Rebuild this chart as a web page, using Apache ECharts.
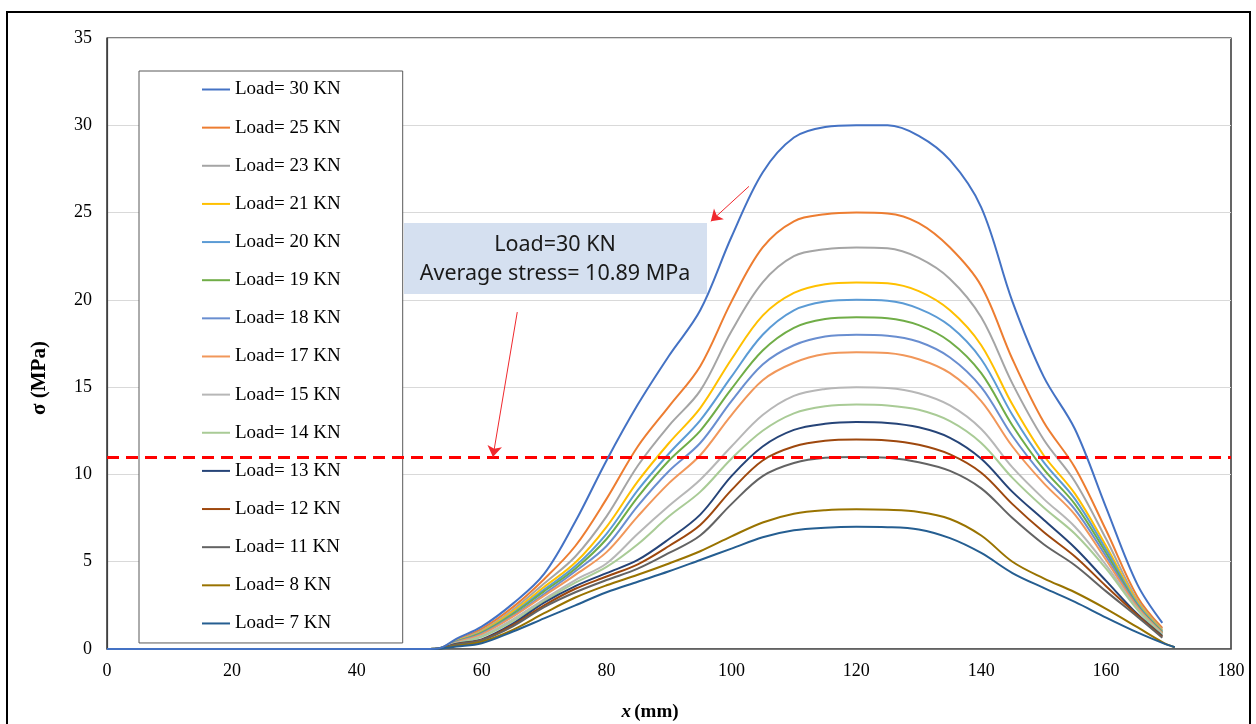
<!DOCTYPE html>
<html>
<head>
<meta charset="utf-8">
<script src="https://cdn.jsdelivr.net/npm/echarts@6/dist/echarts.min.js"></script>
<style>
  html, body { margin: 0; padding: 0; background: #fff; }
  #chart { width: 1256px; height: 724px; }
</style>
</head>
<body>
<div id="chart"></div>
<script>
// x positions (mm)
var xMain = [0, 10, 20, 30, 40, 50, 53, 56, 60, 65, 70, 75, 80, 85, 90, 95, 100, 105, 110, 115, 120, 125, 130, 135, 140, 145, 150, 155, 160, 165, 169];
var xLow = [0, 10, 20, 30, 40, 50, 53, 56, 60, 65, 70, 75, 80, 85, 90, 95, 100, 105, 110, 115, 120, 125, 130, 135, 140, 145, 150, 155, 160, 165, 169, 171];

var loads = [30, 25, 23, 21, 20, 19, 18, 17, 15, 14, 13, 12, 11, 8, 7];
var colors = ['#4472C4', '#ED7D31', '#A5A5A5', '#FFC000', '#5B9BD5', '#70AD47', '#698ED0', '#F1975A',
              '#B7B7B7', '#A9CB96', '#264478', '#9E480E', '#636363', '#997300', '#255E91'];

// stress (MPa)
var s30 = [0, 0, 0, 0, 0, 0, 0.03, 0.6, 1.28, 2.6, 4.3, 7.3, 10.8, 14.0, 16.8, 19.4, 23.6, 27.3, 29.3, 29.9, 30.0, 30.0, 29.4, 28.0, 25.3, 19.9, 15.6, 12.6, 8.1, 3.7, 1.5];
var s25 = [0, 0, 0, 0, 0, 0, 0.03, 0.52, 1.15, 2.4, 4.0, 5.9, 8.6, 11.6, 13.9, 16.2, 19.9, 23.0, 24.5, 24.9, 25.0, 24.95, 24.4, 23.0, 20.8, 16.6, 13.0, 10.4, 6.8, 3.0, 1.2];
var s23 = [0, 0, 0, 0, 0, 0, 0.03, 0.48, 1.05, 2.25, 3.75, 5.3, 7.6, 10.5, 12.8, 14.8, 18.2, 21.0, 22.5, 22.9, 23.0, 22.95, 22.4, 21.2, 19.0, 15.2, 12.0, 9.6, 6.3, 2.8, 1.1];
var s21 = [0, 0, 0, 0, 0, 0, 0.03, 0.45, 1.0, 2.15, 3.55, 4.95, 7.0, 9.6, 11.8, 13.8, 16.6, 19.1, 20.4, 20.9, 21.0, 20.95, 20.5, 19.4, 17.4, 14.0, 11.1, 8.9, 5.9, 2.7, 1.05];
var s20 = [0, 0, 0, 0, 0, 0, 0.03, 0.43, 0.95, 2.05, 3.4, 4.75, 6.6, 9.1, 11.2, 13.1, 15.6, 18.0, 19.4, 19.9, 20.0, 19.95, 19.5, 18.5, 16.6, 13.4, 10.7, 8.6, 5.7, 2.6, 1.0];
var s19 = [0, 0, 0, 0, 0, 0, 0.03, 0.42, 0.92, 2.0, 3.3, 4.6, 6.3, 8.7, 10.8, 12.5, 14.9, 17.1, 18.4, 18.9, 19.0, 18.95, 18.55, 17.6, 15.8, 12.8, 10.3, 8.3, 5.5, 2.5, 0.95];
var s18 = [0, 0, 0, 0, 0, 0, 0.03, 0.4, 0.88, 1.9, 3.15, 4.45, 5.9, 8.2, 10.2, 11.8, 14.2, 16.3, 17.4, 17.9, 18.0, 17.95, 17.6, 16.7, 15.0, 12.2, 9.9, 8.0, 5.3, 2.45, 0.9];
var s17 = [0, 0, 0, 0, 0, 0, 0.03, 0.38, 0.84, 1.85, 3.05, 4.25, 5.55, 7.6, 9.5, 11.1, 13.4, 15.4, 16.4, 16.9, 17.0, 16.95, 16.6, 15.8, 14.2, 11.6, 9.5, 7.7, 5.1, 2.4, 0.9];
var s15 = [0, 0, 0, 0, 0, 0, 0.03, 0.35, 0.75, 1.7, 2.85, 3.95, 4.9, 6.6, 8.2, 9.7, 11.6, 13.4, 14.5, 14.9, 15.0, 14.95, 14.65, 13.95, 12.6, 10.4, 8.6, 7.0, 4.8, 2.3, 0.85];
var s14 = [0, 0, 0, 0, 0, 0, 0.03, 0.33, 0.7, 1.6, 2.75, 3.8, 4.7, 6.0, 7.6, 9.0, 10.9, 12.5, 13.5, 13.9, 14.0, 13.95, 13.7, 13.05, 11.8, 9.8, 8.1, 6.6, 4.6, 2.25, 0.8];
var s13 = [0, 0, 0, 0, 0, 0, 0.02, 0.3, 0.55, 1.45, 2.65, 3.6, 4.35, 5.1, 6.3, 7.7, 9.9, 11.6, 12.55, 12.9, 13.0, 12.95, 12.7, 12.1, 10.9, 9.0, 7.4, 5.8, 3.9, 2.0, 0.75];
var s12 = [0, 0, 0, 0, 0, 0, 0.02, 0.28, 0.52, 1.38, 2.5, 3.45, 4.15, 4.85, 5.9, 7.1, 9.1, 10.8, 11.6, 11.93, 12.0, 11.95, 11.7, 11.15, 10.1, 8.3, 6.7, 5.3, 3.6, 1.95, 0.7];
var s11 = [0, 0, 0, 0, 0, 0, 0.02, 0.26, 0.5, 1.3, 2.4, 3.25, 3.95, 4.6, 5.5, 6.5, 8.3, 9.9, 10.65, 10.95, 11.0, 10.95, 10.7, 10.2, 9.2, 7.5, 6.0, 4.8, 3.3, 1.85, 0.65];
var s8 = [0, 0, 0, 0, 0, 0, 0.02, 0.18, 0.42, 1.1, 2.05, 2.95, 3.65, 4.25, 4.9, 5.6, 6.45, 7.25, 7.75, 7.95, 8.0, 7.97, 7.85, 7.45, 6.5, 5.0, 4.05, 3.25, 2.3, 1.25, 0.4, 0.1];
var s7 = [0, 0, 0, 0, 0, 0, 0.02, 0.14, 0.33, 1.0, 1.75, 2.5, 3.25, 3.85, 4.45, 5.1, 5.75, 6.4, 6.8, 6.95, 7.0, 6.98, 6.85, 6.35, 5.5, 4.35, 3.5, 2.7, 1.8, 0.95, 0.35, 0.1];

var stress = [s30, s25, s23, s21, s20, s19, s18, s17, s15, s14, s13, s12, s11, s8, s7];

var avgStress = 11;

var serif = 'Liberation Serif';
var chart = echarts.init(document.getElementById('chart'));

var names = loads.map(function (l) { return 'Load= ' + l + ' KN'; });

var series = loads.map(function (l, i) {
  var xs = stress[i].length === xLow.length ? xLow : xMain;
  var s = {
    name: names[i],
    type: 'line',
    smooth: 0.35,
    symbol: 'none',
    color: colors[i],
    lineStyle: { width: 2, color: colors[i] },
    data: xs.map(function (x, k) { return [x, stress[i][k]]; })
  };
  if (i === 0) {
    s.z = 5;
    s.markLine = {
      silent: true,
      symbol: ['none', 'none'],
      label: { show: false },
      data: [
        { yAxis: avgStress, lineStyle: { color: '#FF0000', width: 3, type: [12, 7] } },
        [
          { coord: [102.8, 26.5], symbol: 'none', lineStyle: { color: '#F0282D', width: 1, type: 'solid' } },
          { coord: [96.7, 24.5], symbol: 'arrow', symbolSize: 11 }
        ],
        [
          { coord: [65.7, 19.3], symbol: 'none', lineStyle: { color: '#F0282D', width: 1, type: 'solid' } },
          { coord: [61.8, avgStress], symbol: 'arrow', symbolSize: 11 }
        ]
      ]
    };
  }
  return s;
});

var option = {
  backgroundColor: '#fff',
  animation: false,
  grid: {
    left: 107, right: 25, top: 38, bottom: 75,
    show: true, borderColor: '#000', borderWidth: 1.2
  },
  xAxis: {
    type: 'value', min: 0, max: 180, interval: 20,
    axisLine: { lineStyle: { color: '#595959', width: 1.5 } },
    axisTick: { show: false },
    splitLine: { show: false },
    axisLabel: { fontFamily: serif, fontSize: 18, color: '#000', margin: 13 }
  },
  yAxis: {
    type: 'value', min: 0, max: 35, interval: 5,
    axisLine: { show: true, lineStyle: { color: '#404040', width: 1.2 } },
    axisTick: { show: false },
    splitLine: { lineStyle: { color: '#D9D9D9', width: 1 } },
    axisLabel: { fontFamily: serif, fontSize: 18, color: '#000', margin: 15 }
  },
  legend: {
    data: names,
    orient: 'vertical',
    left: 139, top: 71,
    padding: [9, 62, 10, 63],
    itemGap: 19.14,
    icon: 'rect',
    itemWidth: 28, itemHeight: 2,
    selectedMode: false,
    backgroundColor: '#fff',
    borderColor: '#595959', borderWidth: 1,
    textStyle: { fontFamily: serif, fontSize: 19, color: '#000', lineHeight: 18 }
  },
  graphic: [
    {
      type: 'rect', z: 0, silent: true,
      shape: { x: 7, y: 12, width: 1243, height: 730 },
      style: { fill: 'none', stroke: '#000', lineWidth: 2 }
    },
    {
      type: 'rect', z: 10, silent: true,
      shape: { x: 404, y: 223, width: 303, height: 71 },
      style: { fill: '#D5E0F0' }
    },
    {
      type: 'text', z: 11, silent: true,
      style: { x: 555, y: 245, text: 'Load=30 KN', fill: '#1a1a1a', font: '21.5px "Noto Sans"', textAlign: 'center', textVerticalAlign: 'middle' }
    },
    {
      type: 'text', z: 11, silent: true,
      style: { x: 555, y: 274, text: 'Average stress= 10.89 MPa', fill: '#1a1a1a', font: '21.5px "Noto Sans"', textAlign: 'center', textVerticalAlign: 'middle' }
    },
    {
      type: 'text', silent: true, x: 40, y: 378, rotation: Math.PI / 2,
      style: { text: 'σ (MPa)', fill: '#000', font: 'bold 21px "Liberation Serif"', textAlign: 'center', textVerticalAlign: 'middle' }
    },
    {
      type: 'text', silent: true, x: 650, y: 712,
      style: {
        text: '{i|x} {b|(mm)}', textAlign: 'center', textVerticalAlign: 'middle',
        rich: {
          i: { font: 'italic bold 19px "Liberation Serif"', fill: '#000' },
          b: { font: 'bold 19px "Liberation Serif"', fill: '#000' }
        }
      }
    }
  ],
  series: series
};

chart.setOption(option);
</script>
</body>
</html>
